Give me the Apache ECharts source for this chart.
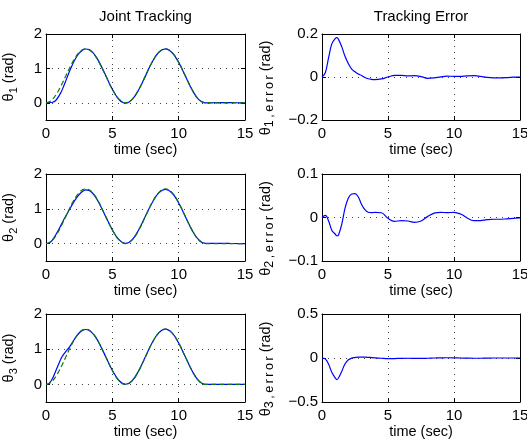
<!DOCTYPE html>
<html>
<head>
<meta charset="utf-8">
<script src="https://cdn.jsdelivr.net/npm/echarts@6/dist/echarts.min.js"></script>
<style>
  html, body { margin: 0; padding: 0; background: #fff; }
  #chart { width: 527px; height: 441px; }
</style>
</head>
<body>
<div id="chart"></div>
<script>
// sample times (sec)
const time = [0, 0.25, 0.5, 0.75, 1, 1.125, 1.25, 1.5, 1.75, 2, 2.25, 2.5, 2.75, 3, 3.25, 3.5, 3.75, 4,
  4.5, 5, 5.5, 6, 6.5, 7, 7.5, 8, 8.5, 9, 9.5, 10, 10.5, 11, 11.5, 12, 12.5, 13, 13.5, 14, 14.5, 15];

// desired joint trajectory (green dashed), same for all three joints
const desired = [0, 0.027, 0.105, 0.23, 0.393, 0.485, 0.582, 0.785, 0.989, 1.178, 1.341, 1.466, 1.544, 1.571, 1.544, 1.466, 1.341, 1.178,
  0.785, 0.393, 0.105, 0, 0.105, 0.393, 0.785, 1.178, 1.466, 1.571, 1.466, 1.178, 0.785, 0.393, 0.105, 0, 0, 0, 0, 0, 0, 0];

// actual joint angles (blue)
const actual1 = [0, 0.007, 0.015, 0.075, 0.215, 0.302, 0.405, 0.645, 0.894, 1.116, 1.304, 1.442, 1.53, 1.564, 1.546, 1.474, 1.352, 1.19,
  0.794, 0.393, 0.097, -0.008, 0.1, 0.387, 0.783, 1.184, 1.47, 1.57, 1.462, 1.175, 0.782, 0.388, 0.099, -0.003, 0.002, 0.004, 0.004, 0.003, 0.001, 0];
const actual2 = [0, 0.022, 0.113, 0.26, 0.431, 0.527, 0.622, 0.8, 0.967, 1.133, 1.287, 1.411, 1.497, 1.541, 1.526, 1.454, 1.33, 1.166,
  0.774, 0.395, 0.114, 0.007, 0.113, 0.404, 0.793, 1.176, 1.456, 1.559, 1.455, 1.166, 0.777, 0.394, 0.112, 0.007, 0.005, 0.004, 0.004, 0.003, 0.002, 0.001];
const actual3 = [0, 0.037, 0.175, 0.395, 0.618, 0.73, 0.81, 0.935, 1.054, 1.198, 1.343, 1.461, 1.534, 1.56, 1.534, 1.458, 1.336, 1.176,
  0.788, 0.4, 0.111, 0.004, 0.108, 0.397, 0.79, 1.181, 1.466, 1.569, 1.463, 1.176, 0.785, 0.395, 0.108, 0.003, 0.001, 0, 0, 0, 0, 0];

// tracking errors (rad)
const error1 = [0, 0.02, 0.09, 0.155, 0.178, 0.183, 0.175, 0.14, 0.095, 0.062, 0.037, 0.024, 0.014, 0.007, -0.002, -0.008, -0.011, -0.012,
  -0.009, 0, 0.008, 0.008, 0.005, 0.006, 0.002, -0.006, -0.004, 0.001, 0.004, 0.003, 0.003, 0.005, 0.006, 0.003, -0.002, -0.004, -0.004, -0.003, -0.001, 0];
const error2 = [0, 0.005, -0.008, -0.03, -0.038, -0.042, -0.04, -0.015, 0.022, 0.045, 0.054, 0.055, 0.047, 0.03, 0.018, 0.012, 0.011, 0.012,
  0.011, -0.002, -0.009, -0.007, -0.008, -0.011, -0.008, 0.002, 0.01, 0.012, 0.011, 0.012, 0.008, -0.001, -0.007, -0.007, -0.005, -0.004, -0.004, -0.003, -0.002, -0.001];
const error3 = [0, -0.01, -0.07, -0.165, -0.225, -0.245, -0.228, -0.15, -0.065, -0.02, -0.002, 0.005, 0.01, 0.011, 0.01, 0.008, 0.005, 0.002,
  -0.003, -0.007, -0.006, -0.004, -0.003, -0.004, -0.005, -0.003, 0, 0.002, 0.003, 0.002, 0, -0.002, -0.003, -0.003, -0.001, 0, 0, 0, 0, 0];

// tick labels
const xTicks = [0, 5, 10, 15];
const jointTicks = [0, 1, 2];
const jointMin = -0.5;
const errorTicks = [[-0.2, 0, 0.2], [-0.1, 0, 0.1], [-0.5, 0, 0.5]];

const titles = ['Joint Tracking', 'Tracking Error'];

const FONT = '"Liberation Sans", Arial, Helvetica, sans-serif';
const colLeft = [46, 322];
const colWidth = [199, 198];
const rowBox = [[34, 86], [174, 87], [314, 88]];

const pairs = (vals) => time.map((t, i) => [t, vals[i]]);
const minus = (v) => String(v).replace('-', '\u2212');
// spread subscript letters a little, like the original figure
const spread = (s) => s.split('').join('\u2009');

const grid = [], xAxis = [], yAxis = [], series = [];
const gridLine = {show: true, lineStyle: {color: '#444', width: 1, type: [1, 5]}};
const blackLine = {show: true, onZero: false, lineStyle: {color: '#000', width: 1}};
const tickIn = {show: true, inside: true, length: 4, lineStyle: {color: '#000', width: 1}};
const richName = {
  m: {fontSize: 14.5, lineHeight: 20, fontFamily: FONT, color: '#000'},
  s: {fontSize: 11, lineHeight: 12, verticalAlign: 'bottom', fontFamily: FONT, color: '#000'},
  e: {fontSize: 12.5, lineHeight: 12, verticalAlign: 'bottom', fontFamily: FONT, color: '#000'}
};

const actuals = [actual1, actual2, actual3];
const errors = [error1, error2, error3];

for (let r = 0; r < 3; r++) {
  for (let c = 0; c < 2; c++) {
    const gi = grid.length;
    grid.push({left: colLeft[c], top: rowBox[r][0], width: colWidth[c], height: rowBox[r][1],
      outerBoundsMode: 'none', containLabel: false});

    const xBase = {gridIndex: gi, type: 'value', min: xTicks[0], max: xTicks[xTicks.length - 1],
      interval: xTicks[1] - xTicks[0], axisLine: blackLine, axisTick: tickIn};
    xAxis.push(Object.assign({}, xBase, {
      position: 'bottom',
      splitLine: gridLine,
      axisLabel: {fontSize: 15, color: '#000', fontFamily: FONT, margin: 6},
      name: 'time (sec)', nameLocation: 'middle', nameGap: 22,
      nameTextStyle: {fontSize: 14.5, color: '#000', fontFamily: FONT}
    }));
    xAxis.push(Object.assign({}, xBase, {position: 'top', splitLine: {show: false}, axisLabel: {show: false}}));

    let yBase, name, nameGap, namePad;
    if (c === 0) {
      yBase = {gridIndex: gi, type: 'value', min: jointMin, max: jointTicks[jointTicks.length - 1],
        minInterval: jointTicks[1] - jointTicks[0], maxInterval: jointTicks[1] - jointTicks[0]};
      name = '{m|\u03b8}{s|' + (r + 1) + '}{m| (rad)}';
      nameGap = 27;
      namePad = [0, 0, 0, 0];
    } else {
      const tk = errorTicks[r];
      yBase = {gridIndex: gi, type: 'value', min: tk[0], max: tk[tk.length - 1], interval: tk[1] - tk[0]};
      name = '{m|\u03b8}{e|' + spread((r + 1) + ',error') + '}{m| (rad)}';
      nameGap = 46;
      namePad = [0, 22, 0, 0];
    }
    yAxis.push(Object.assign({}, yBase, {
      position: 'left', axisLine: blackLine, axisTick: tickIn, splitLine: gridLine,
      axisLabel: {fontSize: 15, color: '#000', fontFamily: FONT, margin: 4,
        formatter: (v) => (c === 0 && v < 0 ? '' : minus(+v.toFixed(2)))},
      name: name, nameLocation: 'middle', nameRotate: 90, nameGap: nameGap,
      nameTextStyle: {fontSize: 14.5, color: '#000', fontFamily: FONT, padding: namePad, rich: richName}
    }));
    yAxis.push(Object.assign({}, yBase, {
      position: 'right', axisLine: blackLine, axisTick: tickIn, splitLine: {show: false}, axisLabel: {show: false}
    }));

    const xi = gi * 2, yi = gi * 2;
    if (c === 0) {
      series.push({type: 'line', xAxisIndex: xi, yAxisIndex: yi, data: pairs(actuals[r]), showSymbol: false,
        smooth: 0.4, lineStyle: {color: '#0000ff', width: 1.2}, itemStyle: {color: '#0000ff'}, silent: true, animation: false});
      series.push({type: 'line', xAxisIndex: xi, yAxisIndex: yi, data: pairs(desired), showSymbol: false,
        smooth: 0.4, lineStyle: {color: '#008000', width: 1.2, type: [5, 3]}, itemStyle: {color: '#008000'}, silent: true, animation: false});
    } else {
      series.push({type: 'line', xAxisIndex: xi, yAxisIndex: yi, data: pairs(errors[r]), showSymbol: false,
        smooth: 0.4, lineStyle: {color: '#0000ff', width: 1.2}, itemStyle: {color: '#0000ff'}, silent: true, animation: false});
    }
  }
}

const graphic = titles.map((t, c) => ({
  type: 'text', x: colLeft[c] + colWidth[c] / 2, y: 17,
  style: {text: t, fill: '#000', font: '15px ' + FONT, align: 'center', verticalAlign: 'middle',
    textAlign: 'center', textVerticalAlign: 'middle'}
}));

const myChart = echarts.init(document.getElementById('chart'), null, {renderer: 'canvas'});
myChart.setOption({
  animation: false,
  backgroundColor: '#fff',
  grid: grid,
  xAxis: xAxis,
  yAxis: yAxis,
  series: series,
  graphic: graphic
});
</script>
</body>
</html>
